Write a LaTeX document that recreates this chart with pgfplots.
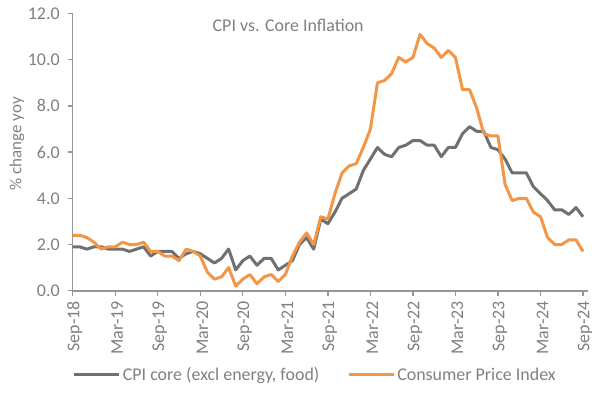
\documentclass[border=0pt]{standalone}
\usepackage{fontspec}
\setmainfont{Carlito}
\usepackage{pgfplots}
\pgfplotsset{compat=1.18}
\definecolor{coreg}{RGB}{112,112,112}
\definecolor{cpio}{RGB}{242,150,72}
\definecolor{txtg}{RGB}{128,128,128}
\definecolor{axg}{RGB}{150,150,150}
\begin{document}
\begin{tikzpicture}
\path[use as bounding box] (-72.7bp,-102.3bp) rectangle (527.3bp,290.7bp);
\begin{axis}[
  at={(0,0)}, anchor=origin,
  scale only axis, width=515.3bp, height=277.2bp,
  xmin=0, xmax=72.7, ymin=0, ymax=12,
  axis lines*=left,
  axis line style={draw=axg, line width=1.6bp},
  tick align=outside, major tick length=5bp,
  tick style={draw=axg, line width=1.3bp},
  xtick={0,6,...,72},
  xticklabels={Sep-18,Mar-19,Sep-19,Mar-20,Sep-20,Mar-21,Sep-21,Mar-22,Sep-22,Mar-23,Sep-23,Mar-24,Sep-24},
  xticklabel shift=2bp,
  xticklabel style={rotate=90, anchor=east, font=\fontsize{18}{21}\selectfont, text=txtg, yshift=-2bp},
  ytick={0,2,...,12},
  yticklabel style={font=\fontsize{18}{21}\selectfont, text=txtg, xshift=-4.5bp},
  /pgf/number format/assume math mode=true,
  yticklabel={\pgfmathprintnumber[fixed,fixed zerofill,precision=1]{\tick}},
  ylabel={\% change yoy},
  ylabel style={at={(axis description cs:-0.108,0.53)}, anchor=center, font=\fontsize{17}{20}\selectfont, text=txtg},
  legend style={at={(rel axis cs:0,0)}, anchor=west, yshift=-84bp, xshift=-3bp, draw=none, fill=none,
    legend columns=2, font=\fontsize{18}{21}\selectfont, text=txtg,
    /tikz/every even column/.append style={column sep=26bp}},
  legend image code/.code={\draw[#1] (0bp,0bp) -- (45bp,0bp);},
  clip=false,
]
\addplot[coreg, line width=3bp, line join=round] coordinates {
(0,1.9)(1,1.9)(2,1.8)(3,1.9)
(4,1.9)(5,1.8)(6,1.8)(7,1.8)(8,1.7)(9,1.8)(10,1.9)(11,1.5)(12,1.7)(13,1.7)(14,1.7)(15,1.4)
(16,1.6)(17,1.7)(18,1.6)(19,1.4)(20,1.2)(21,1.4)(22,1.8)(23,0.9)(24,1.3)(25,1.5)(26,1.1)(27,1.4)
(28,1.4)(29,0.9)(30,1.1)(31,1.3)(32,2.0)(33,2.3)(34,1.8)(35,3.1)(36,2.9)(37,3.4)(38,4.0)(39,4.2)
(40,4.4)(41,5.2)(42,5.7)(43,6.2)(44,5.9)(45,5.8)(46,6.2)(47,6.3)(48,6.5)(49,6.5)(50,6.3)(51,6.3)
(52,5.8)(53,6.2)(54,6.2)(55,6.8)(56,7.1)(57,6.9)(58,6.9)(59,6.2)(60,6.1)(61,5.7)(62,5.1)(63,5.1)
(64,5.1)(65,4.5)(66,4.2)(67,3.9)(68,3.5)(69,3.5)(70,3.3)(71,3.6)(72,3.2)
};
\addlegendentry{CPI core (excl energy, food)}
\addplot[cpio, line width=3bp, line join=round] coordinates {
(0,2.4)(1,2.4)(2,2.3)(3,2.1)
(4,1.8)(5,1.9)(6,1.9)(7,2.1)(8,2.0)(9,2.0)(10,2.1)(11,1.7)(12,1.7)(13,1.5)(14,1.5)(15,1.3)
(16,1.8)(17,1.7)(18,1.5)(19,0.8)(20,0.5)(21,0.6)(22,1.0)(23,0.2)(24,0.5)(25,0.7)(26,0.3)(27,0.6)
(28,0.7)(29,0.4)(30,0.7)(31,1.5)(32,2.1)(33,2.5)(34,2.0)(35,3.2)(36,3.1)(37,4.2)(38,5.1)(39,5.4)
(40,5.5)(41,6.2)(42,7.0)(43,9.0)(44,9.1)(45,9.4)(46,10.1)(47,9.9)(48,10.1)(49,11.1)(50,10.7)(51,10.5)
(52,10.1)(53,10.4)(54,10.1)(55,8.7)(56,8.7)(57,7.9)(58,6.8)(59,6.7)(60,6.7)(61,4.6)(62,3.9)(63,4.0)
(64,4.0)(65,3.4)(66,3.2)(67,2.3)(68,2.0)(69,2.0)(70,2.2)(71,2.2)(72,1.7)
};
\addlegendentry{Consumer Price Index}
\node[text=txtg, font=\fontsize{18}{21}\selectfont] at (axis cs:30.4,11.5) {CPI vs. Core Inflation};
\end{axis}
\end{tikzpicture}
\end{document}
